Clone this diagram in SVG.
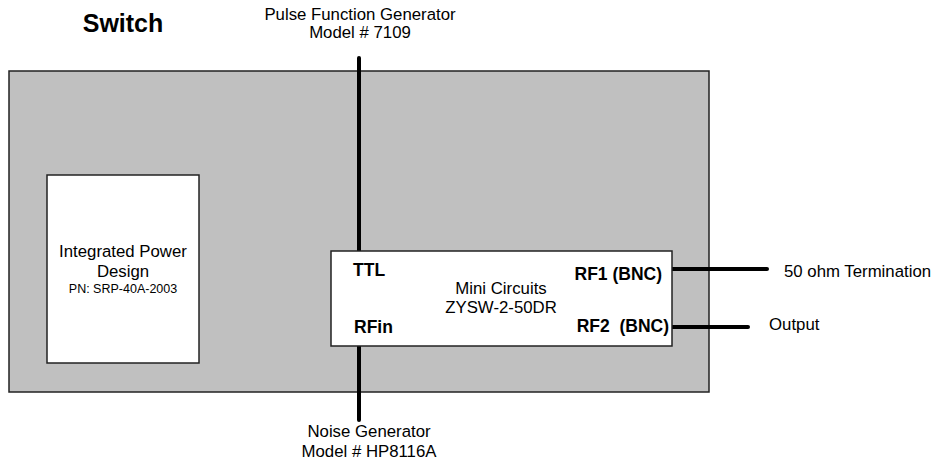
<svg xmlns="http://www.w3.org/2000/svg" width="938" height="465" viewBox="0 0 938 465">
<style>
text{font-family:"Liberation Sans",Arial,sans-serif;fill:#000}
.t{font-size:16.8px}
.b{font-size:17.5px;font-weight:bold;white-space:pre}
.s{font-size:12.5px}
.box{fill:#fff;stroke:#222;stroke-width:1.5}
.wire{stroke:#000;stroke-width:4;stroke-linecap:round;fill:none}
</style>
<rect width="938" height="465" fill="#fff"/>
<g id="switch">
<rect x="9" y="71" width="700" height="321" fill="#c0c0c0" stroke="#222" stroke-width="1.5"/>
<text x="123" y="32" text-anchor="middle" style="font-size:25px;font-weight:bold">Switch</text>
</g>
<g id="power">
<rect class="box" x="47" y="175" width="152" height="188"/>
<text class="t" x="123" y="257" text-anchor="middle">Integrated Power</text>
<text class="t" x="123" y="277" text-anchor="middle">Design</text>
<text class="s" x="123" y="293" text-anchor="middle">PN: SRP-40A-2003</text>
</g>
<g id="connectors">
<line class="wire" x1="359" y1="58" x2="359" y2="251"/>
<line class="wire" x1="359" y1="346" x2="359" y2="420"/>
<line class="wire" x1="671" y1="269" x2="767" y2="269"/>
<line class="wire" x1="672" y1="327" x2="748" y2="327"/>
</g>
<g id="minicircuits">
<rect class="box" x="331" y="251" width="341" height="95"/>
<text class="b" x="353" y="276">TTL</text>
<text class="b" x="354" y="333">RFin</text>
<text class="b" x="662" y="280" text-anchor="end">RF1 (BNC)</text>
<text class="b" x="669" y="332" text-anchor="end">RF2  (BNC)</text>
<text class="t" x="501" y="294" text-anchor="middle">Mini Circuits</text>
<text class="t" x="501" y="313" text-anchor="middle">ZYSW-2-50DR</text>
</g>
<g id="pulsegen">
<text class="t" x="360" y="20" text-anchor="middle">Pulse Function Generator</text>
<text class="t" x="360" y="38" text-anchor="middle">Model # 7109</text>
</g>
<g id="noisegen">
<text class="t" x="369" y="437" text-anchor="middle">Noise Generator</text>
<text class="t" x="369" y="457" text-anchor="middle">Model # HP8116A</text>
</g>
<g id="termination">
<text class="t" x="784" y="277">50 ohm Termination</text>
</g>
<g id="output">
<text class="t" x="769" y="330">Output</text>
</g>
</svg>
